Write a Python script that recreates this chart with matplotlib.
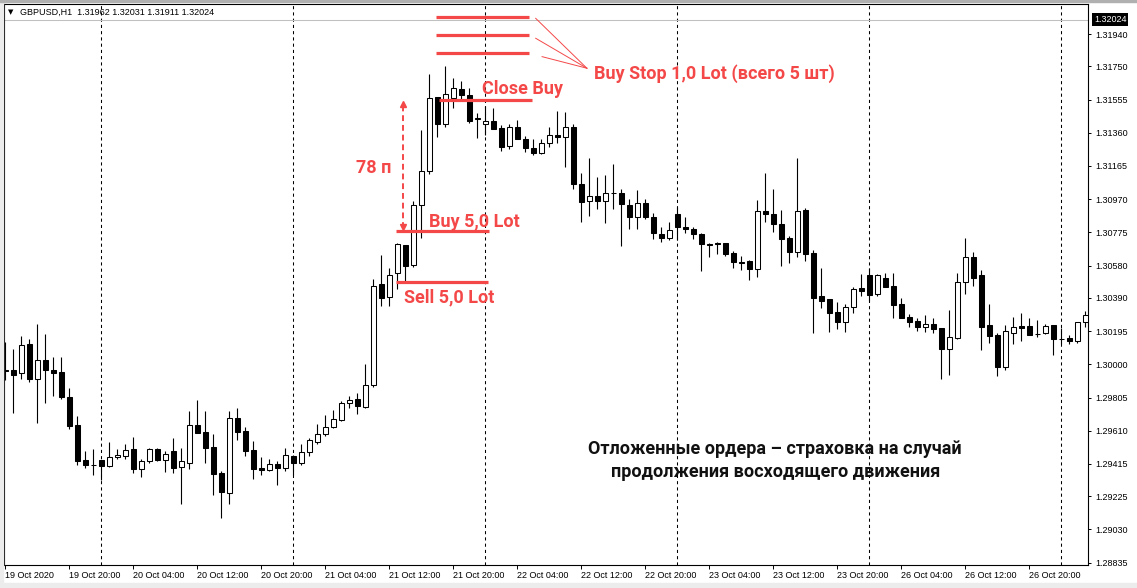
import numpy as np
import pandas as pd
import matplotlib
matplotlib.use("Agg")
import matplotlib.pyplot as plt
from matplotlib import transforms
from matplotlib.patches import Rectangle

plt.rcParams['font.family'] = ['Liberation Sans', 'DejaVu Sans']

# GBPUSD H1, first bar 19 Oct 2020 12:00
opens = [1.29968, 1.29968, 1.29950, 1.30121, 1.29915, 1.30027, 1.29968, 1.29956, 1.29810, 1.29645,
         1.29440, 1.29410, 1.29440, 1.29405, 1.29457, 1.29463, 1.29504, 1.29387, 1.29434, 1.29504,
         1.29440, 1.29493, 1.29399, 1.29422, 1.29645, 1.29604, 1.29516, 1.29363, 1.29246, 1.29686,
         1.29610, 1.29498, 1.29393, 1.29381, 1.29416, 1.29393, 1.29463, 1.29422, 1.29487, 1.29545,
         1.29592, 1.29634, 1.29675, 1.29774, 1.29798, 1.29751, 1.29880, 1.30473, 1.30397, 1.30537,
         1.30702, 1.30584, 1.30937, 1.31136, 1.31571, 1.31412, 1.31565, 1.31618, 1.31582, 1.31441,
         1.31412, 1.31430, 1.31389, 1.31283, 1.31395, 1.31324, 1.31271, 1.31242, 1.31301, 1.31348,
         1.31336, 1.31395, 1.31060, 1.30960, 1.30989, 1.30960, 1.31007, 1.31007, 1.30937, 1.30866,
         1.30948, 1.30866, 1.30766, 1.30743, 1.30884, 1.30808, 1.30796, 1.30766, 1.30708, 1.30714,
         1.30714, 1.30655, 1.30602, 1.30608, 1.30561, 1.30901, 1.30884, 1.30825, 1.30743, 1.30661,
         1.30907, 1.30655, 1.30402, 1.30385, 1.30309, 1.30250, 1.30338, 1.30449, 1.30526, 1.30414,
         1.30508, 1.30461, 1.30356, 1.30279, 1.30256, 1.30221, 1.30238, 1.30215, 1.30091, 1.30156,
         1.30485, 1.30631, 1.30526, 1.30232, 1.30174, 1.29986, 1.30185, 1.30226, 1.30226, 1.30179,
         1.30185, 1.30232, 1.30150, 1.30156, 1.30138, 1.30250]
highs = [1.30132, 1.30091, 1.30168, 1.30150, 1.30238, 1.30179, 1.30044, 1.30044, 1.29862, 1.29698,
         1.29493, 1.29504, 1.29440, 1.29545, 1.29504, 1.29534, 1.29575, 1.29446, 1.29510, 1.29510,
         1.29493, 1.29569, 1.29510, 1.29727, 1.29792, 1.29727, 1.29592, 1.29375, 1.29727, 1.29745,
         1.29634, 1.29551, 1.29457, 1.29446, 1.29434, 1.29510, 1.29469, 1.29534, 1.29569, 1.29651,
         1.29704, 1.29733, 1.29786, 1.29815, 1.29833, 1.30003, 1.30502, 1.30643, 1.30567, 1.30714,
         1.30702, 1.30960, 1.31377, 1.31706, 1.31571, 1.31753, 1.31682, 1.31665, 1.31623, 1.31477,
         1.31518, 1.31506, 1.31406, 1.31412, 1.31436, 1.31342, 1.31324, 1.31324, 1.31395, 1.31488,
         1.31483, 1.31412, 1.31124, 1.31213, 1.31101, 1.31113, 1.31177, 1.31031, 1.30972, 1.31025,
         1.30972, 1.30890, 1.30808, 1.30837, 1.30925, 1.30866, 1.30808, 1.30772, 1.30714, 1.30719,
         1.30714, 1.30667, 1.30637, 1.30614, 1.30966, 1.31124, 1.31031, 1.30907, 1.30755, 1.31213,
         1.30919, 1.30672, 1.30567, 1.30385, 1.30367, 1.30356, 1.30455, 1.30532, 1.30567, 1.30532,
         1.30537, 1.30537, 1.30391, 1.30297, 1.30273, 1.30291, 1.30273, 1.30215, 1.30320, 1.30537,
         1.30743, 1.30661, 1.30555, 1.30356, 1.30185, 1.30232, 1.30279, 1.30303, 1.30273, 1.30262,
         1.30238, 1.30232, 1.30215, 1.30174, 1.30250, 1.30314]
lows = [1.29909, 1.29716, 1.29915, 1.29898, 1.29657, 1.29774, 1.29815, 1.29798, 1.29622, 1.29410,
        1.29393, 1.29352, 1.29322, 1.29399, 1.29446, 1.29446, 1.29363, 1.29340, 1.29422, 1.29434,
        1.29369, 1.29363, 1.29182, 1.29387, 1.29598, 1.29422, 1.29234, 1.29099, 1.29182, 1.29557,
        1.29463, 1.29328, 1.29352, 1.29375, 1.29293, 1.29375, 1.29352, 1.29410, 1.29463, 1.29534,
        1.29581, 1.29628, 1.29669, 1.29745, 1.29710, 1.29745, 1.29868, 1.30344, 1.30344, 1.30444,
        1.30491, 1.30573, 1.30743, 1.31119, 1.31336, 1.31395, 1.31506, 1.31547, 1.31418, 1.31330,
        1.31348, 1.31395, 1.31254, 1.31265, 1.31324, 1.31248, 1.31230, 1.31236, 1.31277, 1.31301,
        1.31160, 1.31031, 1.30837, 1.30872, 1.30913, 1.30831, 1.30913, 1.30696, 1.30796, 1.30796,
        1.30854, 1.30737, 1.30719, 1.30731, 1.30731, 1.30772, 1.30737, 1.30549, 1.30631, 1.30649,
        1.30637, 1.30567, 1.30555, 1.30496, 1.30514, 1.30837, 1.30778, 1.30579, 1.30596, 1.30631,
        1.30608, 1.30185, 1.30332, 1.30191, 1.30209, 1.30191, 1.30303, 1.30402, 1.30373, 1.30402,
        1.30455, 1.30273, 1.30273, 1.30221, 1.30197, 1.30191, 1.30185, 1.29915, 1.29939, 1.30150,
        1.30414, 1.30461, 1.30085, 1.30127, 1.29933, 1.29968, 1.30121, 1.30138, 1.30174, 1.30162,
        1.30179, 1.30056, 1.30121, 1.30121, 1.30127, 1.30221]
closes = [1.29962, 1.29939, 1.30115, 1.29915, 1.30027, 1.29968, 1.29950, 1.29810, 1.29639, 1.29434,
          1.29410, 1.29410, 1.29405, 1.29457, 1.29469, 1.29498, 1.29387, 1.29434, 1.29504, 1.29440,
          1.29475, 1.29393, 1.29434, 1.29645, 1.29598, 1.29510, 1.29358, 1.29252, 1.29686, 1.29604,
          1.29493, 1.29387, 1.29381, 1.29416, 1.29393, 1.29469, 1.29422, 1.29487, 1.29557, 1.29592,
          1.29634, 1.29680, 1.29774, 1.29792, 1.29757, 1.29880, 1.30461, 1.30391, 1.30526, 1.30708,
          1.30579, 1.30937, 1.31136, 1.31565, 1.31412, 1.31588, 1.31623, 1.31582, 1.31430, 1.31447,
          1.31430, 1.31383, 1.31277, 1.31395, 1.31324, 1.31271, 1.31242, 1.31301, 1.31348, 1.31336,
          1.31395, 1.31060, 1.30954, 1.30989, 1.30960, 1.31007, 1.31007, 1.30943, 1.30866, 1.30948,
          1.30866, 1.30772, 1.30743, 1.30790, 1.30808, 1.30796, 1.30766, 1.30708, 1.30702, 1.30708,
          1.30649, 1.30602, 1.30596, 1.30561, 1.30901, 1.30884, 1.30825, 1.30737, 1.30661, 1.30901,
          1.30649, 1.30391, 1.30373, 1.30303, 1.30250, 1.30338, 1.30444, 1.30432, 1.30408, 1.30526,
          1.30455, 1.30350, 1.30273, 1.30250, 1.30221, 1.30238, 1.30209, 1.30091, 1.30162, 1.30485,
          1.30631, 1.30508, 1.30221, 1.30168, 1.29986, 1.30197, 1.30221, 1.30215, 1.30174, 1.30179,
          1.30226, 1.30150, 1.30150, 1.30138, 1.30250, 1.30291]

price_ticks = [1.31940, 1.31750, 1.31555, 1.31360, 1.31165, 1.30970, 1.30775, 1.30580, 1.30390,
               1.30195, 1.30000, 1.29805, 1.29610, 1.29415, 1.29225, 1.29030, 1.28835]
bid = 1.32024
header = "GBPUSD,H1  1.31962 1.32031 1.31911 1.32024"

# hand-drawn trade levels
stop_levels = [1.32038, 1.31934, 1.31828]
stop_starts = [1.32032, 1.31915, 1.31807]
close_buy_level = 1.31553
buy_level = 1.30781
sell_level = 1.30485
move_from, move_to = 1.30801, 1.31543

RED = '#f44848'
W, H = 1137, 588

fig = plt.figure(figsize=(W / 100, H / 100), dpi=100)
fig.patches.append(Rectangle((0, 0), 3 / W, 1, transform=fig.transFigure, color='#ececec', zorder=0))
fig.patches.append(Rectangle((0, 0), 1, 5 / H, transform=fig.transFigure, color='#ececec', zorder=0))
fig.patches.append(Rectangle((0, 1 - 2 / H), 1, 2 / H, transform=fig.transFigure, color='#b0b0b0', zorder=0))
ax = fig.add_axes([4 / W, 23 / H, 1084 / W, 561 / H])

n = len(opens)
x = np.arange(n)
o, h, l, c = (np.array(v) for v in (opens, highs, lows, closes))
times = pd.date_range('2020-10-19 12:00', periods=200, freq='h')
times = times[times.dayofweek < 5][:n]

# day separators
for d in x[times.hour == 0]:
    ax.axvline(d, color='black', lw=0.75, ls=(0, (3, 3)), zorder=1)

ax.axhline(bid, color='#c0c0c0', lw=0.75, zorder=1)

# candles
ax.vlines(x, l, h, color='black', lw=0.8, zorder=2)
ax.bar(x, np.abs(c - o), bottom=np.minimum(o, c), width=0.58,
       color=np.where(c > o, 'white', 'black'), edgecolor='black', linewidth=0.75, zorder=3)

ax.set_xlim(-0.16, 135.34)
ax.set_ylim(1.288215, 1.321162)

ax.yaxis.tick_right()
ax.set_yticks(price_ticks)
ax.set_yticklabels([f'{p:.5f}' for p in price_ticks])
ax.tick_params(axis='y', length=2.2, width=0.7, pad=3, labelsize=6.5, direction='out')

lab_pos = x[::8]
labels = [times[0].strftime('%d %b %Y')] + [t.strftime('%d %b %H:%M') for t in times[8::8]]
ax.set_xticks(lab_pos)
ax.set_xticklabels(labels)
ax.tick_params(axis='x', length=3, width=0.7, pad=1.5, labelsize=6.5, direction='out')
for t in ax.get_xticklabels():
    t.set_ha('left')

for s in ax.spines.values():
    s.set_linewidth(0.8)

# bid label on the price scale
tr = transforms.blended_transform_factory(ax.transAxes, ax.transData)
tr = transforms.offset_copy(tr, fig=fig, x=6, y=0, units='dots')
ax.text(1.0, bid, f'{bid:.5f}', transform=tr, color='white', fontsize=6.5, va='center', ha='left',
        bbox=dict(boxstyle='square,pad=0.2', fc='black', ec='none'), clip_on=False)

fig.text(8 / W, 1 - 12 / H, '▼', fontsize=5, va='center', family=['DejaVu Sans'])
fig.text(20 / W, 1 - 12 / H, header, fontsize=6.5, va='center')

# annotations
fnt = dict(family=['Roboto', 'DejaVu Sans'], fontsize=13, fontweight='bold')
for lv in stop_levels:
    ax.plot([53.9, 65.5], [lv, lv], color=RED, lw=2.3, solid_capstyle='butt', zorder=5)
for sx, sy in zip([66.3, 66.3, 67.1], stop_starts):
    ax.plot([sx, 72.7], [sy, 1.31739], color=RED, lw=0.7, zorder=5)
ax.text(73.6, 1.31674, 'Buy Stop 1,0 Lot (всего 5 шт)', color=RED, va='baseline', ha='left', **fnt)

ax.plot([54.2, 65.8], [close_buy_level] * 2, color=RED, lw=2.3, solid_capstyle='butt', zorder=5)
ax.text(59.55, 1.31588, 'Close Buy', color=RED, va='baseline', ha='left', **fnt)

ax.plot([48.9, 60.5], [buy_level] * 2, color=RED, lw=2.3, solid_capstyle='butt', zorder=5)
ax.text(52.96, 1.30808, 'Buy 5,0 Lot', color=RED, va='baseline', ha='left', **fnt)

ax.plot([48.9, 60.4], [sell_level] * 2, color=RED, lw=2.3, solid_capstyle='butt', zorder=5)
ax.text(49.84, 1.30362, 'Sell 5,0 Lot', color=RED, va='baseline', ha='left', **fnt)

ax.plot([49.7, 49.7], [move_from, move_to - 0.0002], color=RED, lw=1.4, ls=(0, (3, 2)), zorder=5)
ax.plot(49.7, move_to - 0.00012, marker='^', color=RED, ms=4.5, zorder=5)
ax.plot(49.7, move_from + 0.00005, marker='v', color=RED, ms=4, zorder=5)
ax.text(48.3, 1.31122, '78 п', color=RED, va='baseline', ha='right', **fnt)

ax.text(96.2, 1.29474, 'Отложенные ордера – страховка на случай', color='#111111',
        va='baseline', ha='center', **fnt)
ax.text(96.3, 1.29340, 'продолжения восходящего движения', color='#111111',
        va='baseline', ha='center', **fnt)

fig.savefig('out.png', dpi=100, facecolor='white')
